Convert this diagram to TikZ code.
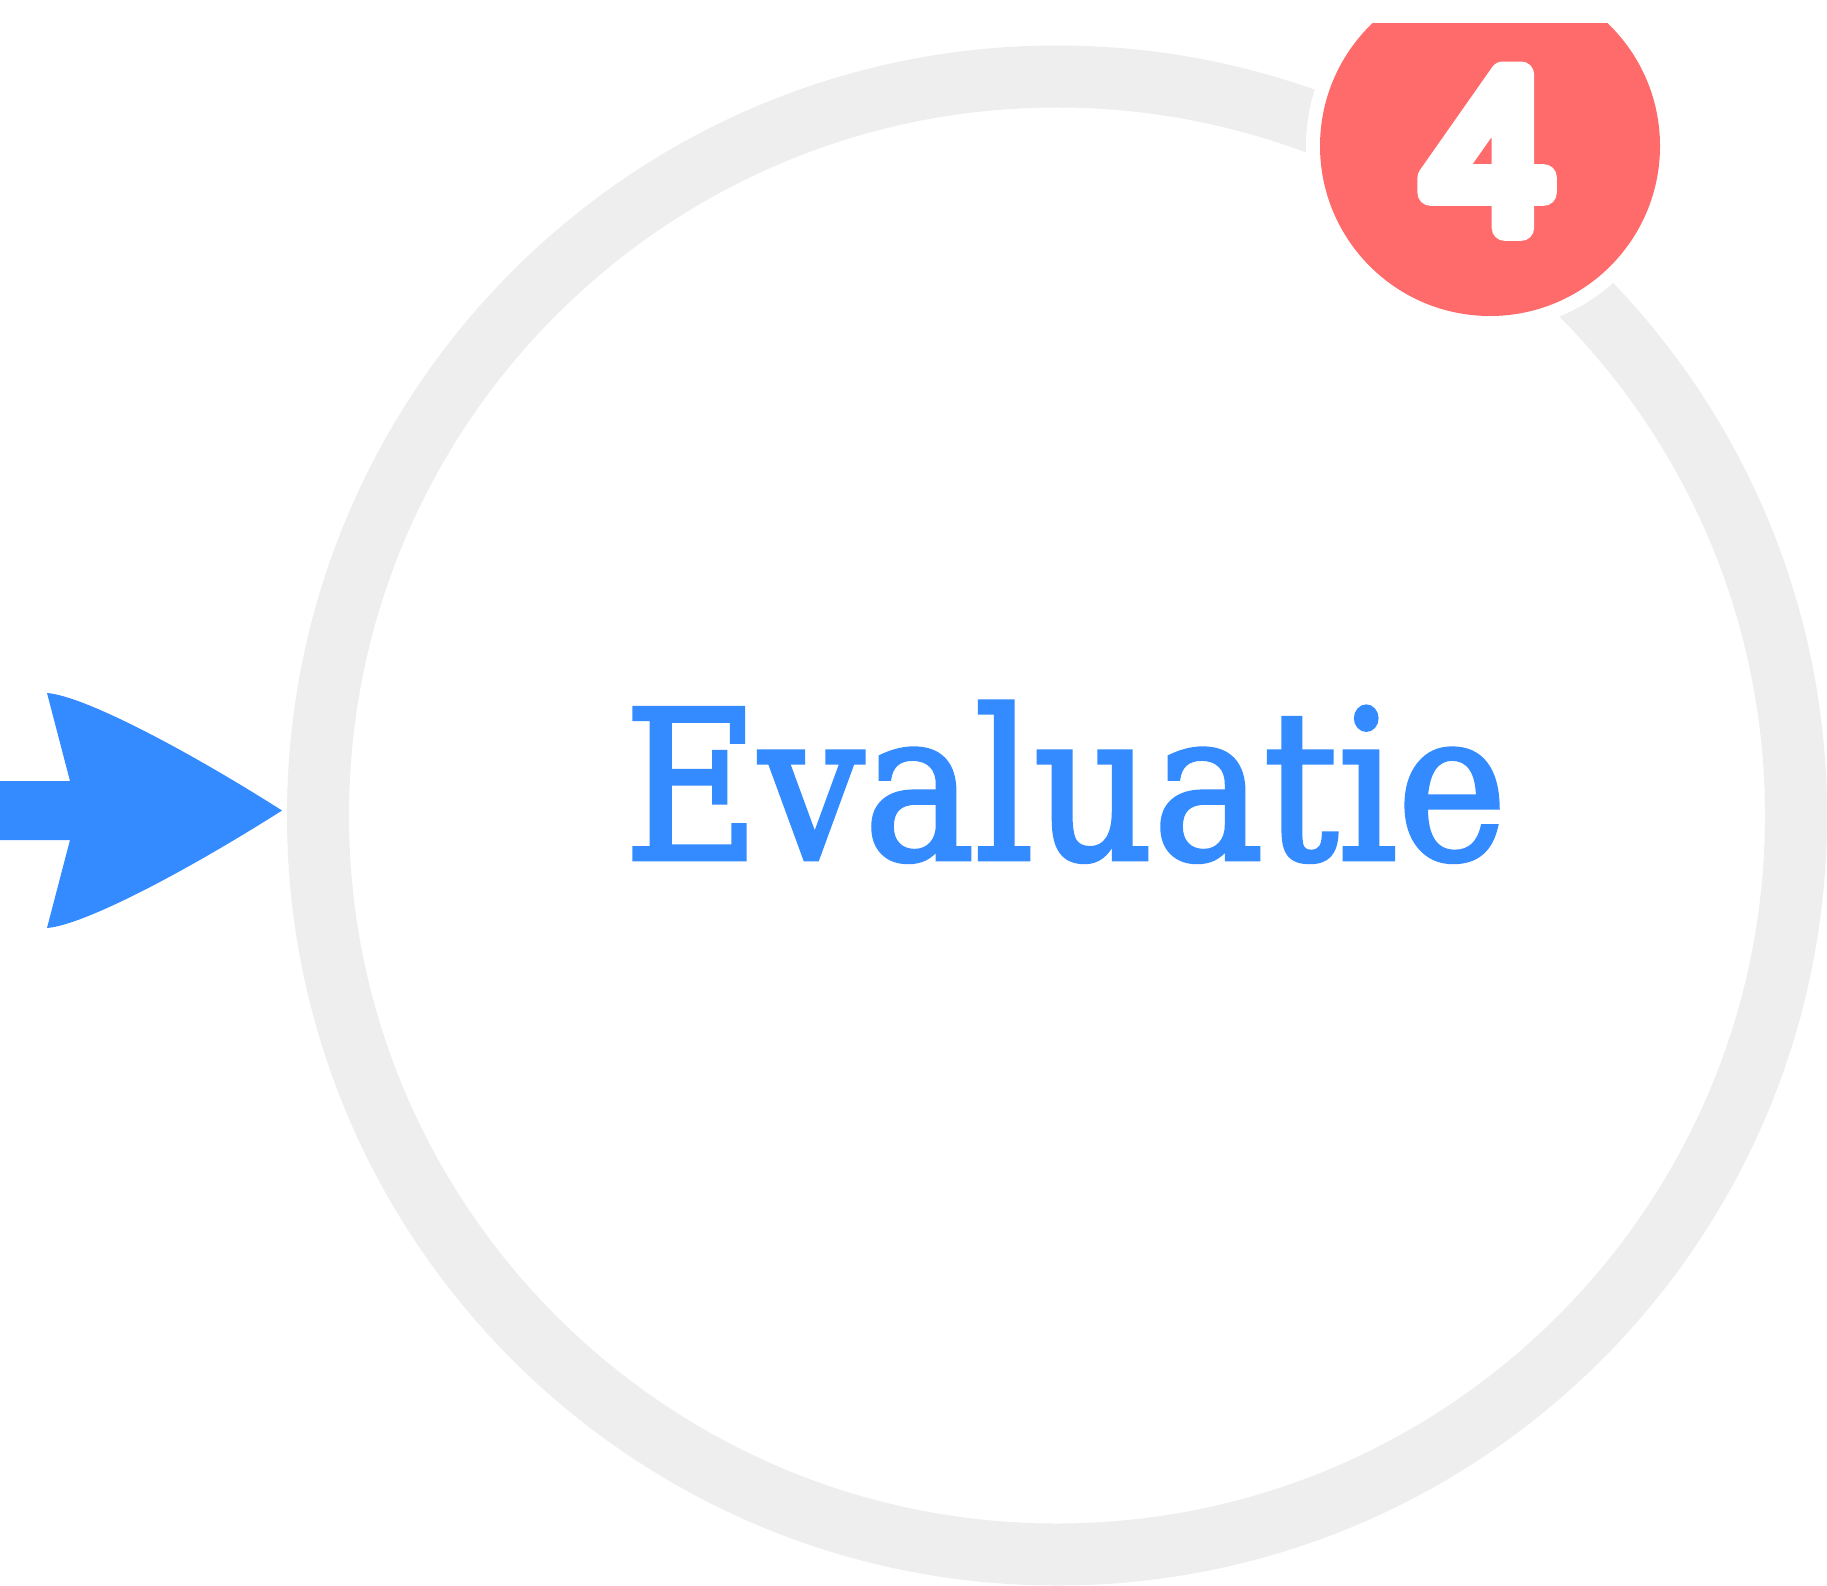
\documentclass[tikz,border=0pt]{standalone}
\usepackage{fontspec}
\newfontfamily\labelfont{DejaVu Serif}[FakeBold=2.2]
\newfontfamily\badgefont{Open Sans}[FakeBold=12]
\definecolor{ringgray}{HTML}{EEEEEE}
\definecolor{flowblue}{HTML}{338BFF}
\definecolor{badgered}{HTML}{FF6B6B}
\begin{document}
\begin{tikzpicture}[x=1pt,y=-1pt,
  ringstyle/.style={circle, draw=ringgray, line width=62pt, minimum size=1478pt, inner sep=0pt},
  badgegap/.style={circle, fill=white, minimum size=368pt, inner sep=0pt},
  badgestyle/.style={circle, fill=badgered, minimum size=340pt, inner sep=0pt},
  labelstyle/.style={anchor=base, inner sep=0pt, text=flowblue, font=\labelfont\fontsize{207}{207}\selectfont},
  digitstyle/.style={anchor=base, inner sep=0pt, text=white, line join=round, font=\badgefont\fontsize{214}{214}\selectfont}]
\useasboundingbox[fill=white] (0,0) rectangle (1827,1586);
\node[ringstyle] (ring) at (1057,815.5) {};
\node[labelstyle] (label) at (1065.5,859) {\scalebox{0.895}[1]{Evaluatie}};
\begin{scope}
  \clip (0,24) rectangle (1827,1586);
  \node[badgegap] (gap) at (1490,146) {};
  \node[badgestyle] (badge) at (1490,146) {};
\end{scope}
\node[digitstyle] (digit) at (1487,228) {4};
% arrow into the ring
\coordinate (src) at (0,810.5);
\coordinate (tip) at ([xshift=-5pt,yshift=5pt]ring.west);
\fill[flowblue] (src) ++(0,-29.5) -- (70,781) -- (47,693)
  .. controls (85,696) and (190,752) .. (tip)
  .. controls (190,869) and (85,925) .. (47,928)
  -- (70,840) -- (0,840) -- cycle;
\end{tikzpicture}
\end{document}
